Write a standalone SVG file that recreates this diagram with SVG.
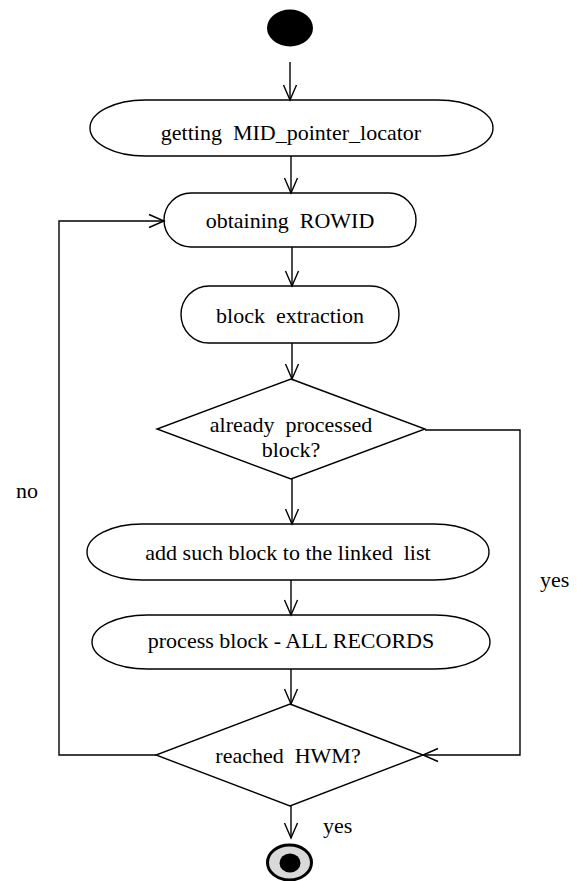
<svg xmlns="http://www.w3.org/2000/svg" width="577" height="881" viewBox="0 0 577 881">
  <style>
    .shape { fill: #ffffff; stroke: #000000; stroke-width: 1.4; }
    .lbl { font-family: "Liberation Serif", "Times New Roman", serif; font-size: 22px; fill: #000000; white-space: pre; }
    .mid { text-anchor: middle; }
    .edge { fill: none; stroke: #000000; stroke-width: 1.4; }
  </style>
  <defs>
    <marker id="open" markerUnits="userSpaceOnUse" markerWidth="20" markerHeight="16" refX="0" refY="0" viewBox="-17 -8 20 16" orient="auto" overflow="visible">
      <path d="M-15,-6.5 L0,0 L-15,6.5" fill="none" stroke="#000000" stroke-width="1.4"/>
    </marker>
  </defs>

  <rect width="577" height="881" fill="#ffffff"/>

  <!-- start node -->
  <g id="start">
    <ellipse cx="290" cy="28" rx="23" ry="18.5" fill="#000000"/>
  </g>

  <g id="getMid">
    <rect class="shape" x="90" y="100" width="403" height="56" rx="55" ry="28"/>
    <text class="lbl mid" x="291" y="140" xml:space="preserve">getting  MID_pointer_locator</text>
  </g>

  <g id="obtainRowid">
    <rect class="shape" x="164" y="193" width="252" height="54" rx="27" ry="27"/>
    <text class="lbl mid" x="290" y="228" xml:space="preserve">obtaining  ROWID</text>
  </g>

  <g id="blockExtraction">
    <rect class="shape" x="181" y="286" width="218" height="57" rx="28" ry="28.5"/>
    <text class="lbl mid" x="290" y="323" xml:space="preserve">block  extraction</text>
  </g>

  <g id="alreadyProcessed">
    <polygon class="shape" points="291,379 425,429 291,479 157,429"/>
    <text class="lbl mid" x="291" y="432" xml:space="preserve">already  processed</text>
    <text class="lbl mid" x="291" y="457">block?</text>
  </g>

  <g id="addToList">
    <rect class="shape" x="87" y="524" width="402" height="56" rx="55" ry="28"/>
    <text class="lbl mid" x="288" y="560" xml:space="preserve">add such block to the linked  list</text>
  </g>

  <g id="processBlock">
    <rect class="shape" x="92" y="615" width="398" height="54" rx="55" ry="27"/>
    <text class="lbl mid" x="291" y="648">process block - ALL RECORDS</text>
  </g>

  <g id="reachedHwm">
    <polygon class="shape" points="290,704 423,755 290,806 156,755"/>
    <text class="lbl mid" x="288" y="763" xml:space="preserve">reached  HWM?</text>
  </g>

  <!-- final node -->
  <g id="end">
    <ellipse cx="289.5" cy="862.5" rx="22" ry="17.5" fill="#d9d9d9" stroke="#000000" stroke-width="3"/>
    <ellipse cx="290" cy="863" rx="10.5" ry="9.5" fill="#000000"/>
  </g>

  <!-- connectors -->
  <g id="connectors">
    <line class="edge" x1="290" y1="62" x2="290" y2="100" marker-end="url(#open)"/>
    <line class="edge" x1="291" y1="156" x2="291" y2="193" marker-end="url(#open)"/>
    <line class="edge" x1="292" y1="247" x2="292" y2="286" marker-end="url(#open)"/>
    <line class="edge" x1="292" y1="343" x2="292" y2="379" marker-end="url(#open)"/>
    <line class="edge" x1="292" y1="479" x2="292" y2="524" marker-end="url(#open)"/>
    <line class="edge" x1="291" y1="580" x2="291" y2="615" marker-end="url(#open)"/>
    <line class="edge" x1="291" y1="669" x2="291" y2="704" marker-end="url(#open)"/>
    <line class="edge" x1="291" y1="806" x2="291" y2="838" marker-end="url(#open)"/>
    <polyline class="edge" points="425,430 520,430 520,755 423,755" marker-end="url(#open)"/>
    <polyline class="edge" points="156,755 59,755 59,221 164,221" marker-end="url(#open)"/>
  </g>

  <text class="lbl" x="16" y="498">no</text>
  <text class="lbl" x="540" y="587">yes</text>
  <text class="lbl" x="323" y="833">yes</text>
</svg>
